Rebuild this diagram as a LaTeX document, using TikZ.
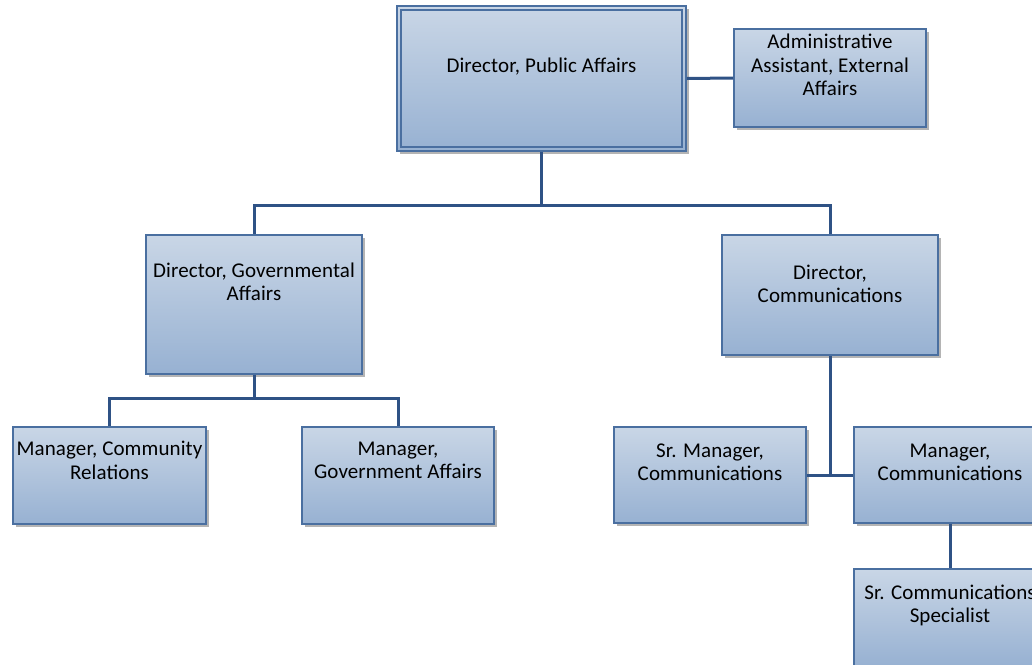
\documentclass[tikz,border=0pt]{standalone}
\usepackage{fontspec}
\setmainfont{Carlito}[LetterSpace=0.5]
\usetikzlibrary{shadows}
\definecolor{boxtop}{HTML}{C9D6E6}
\definecolor{boxbot}{HTML}{97B1D2}
\definecolor{boxline}{HTML}{4A6FA0}
\definecolor{wire}{HTML}{2F5285}
\definecolor{shade}{HTML}{B4B4B4}
\tikzset{
  orgbox/.style={rectangle, draw=boxline, line width=1.6pt, top color=boxtop, bottom color=boxbot,
    inner sep=0pt, drop shadow={shadow xshift=3pt, shadow yshift=-3pt, fill=shade, opacity=1}},
  txt/.style={align=center, font=\fontsize{21}{23.5}\selectfont, text=black, inner sep=0pt},
  wirestyle/.style={draw=wire, line width=3pt},
}
\begin{document}
\begin{tikzpicture}[x=1pt,y=-1pt]
\useasboundingbox (0,0) rectangle (1032,664);
\clip (0,0) rectangle (1032,664);
% nodes
\node[orgbox, minimum width=289pt, minimum height=145pt,
  label={[txt,yshift=11.5pt]center:{Director, Public Affairs}}] (pa) at (541.5,78.5) {};
\draw[boxline, line width=1.6pt] ([shift={(5pt,-5pt)}]pa.north west) rectangle ([shift={(-5pt,5pt)}]pa.south east);
\node[orgbox, minimum width=192pt, minimum height=98pt,
  label={[txt,yshift=13pt]center:{Administrative\\Assistant, External\\Affairs}}] (aa) at (830,78) {};
\node[orgbox, minimum width=216pt, minimum height=139pt,
  label={[txt,yshift=22.5pt]center:{Director, Governmental\\Affairs}}] (dg) at (254,304.5) {};
\node[orgbox, minimum width=216pt, minimum height=120pt,
  label={[txt,yshift=11pt]center:{Director,\\Communications}}] (dc) at (830,295) {};
\node[orgbox, minimum width=193pt, minimum height=97pt,
  label={[txt,yshift=15pt]center:{Manager, Community\\Relations}}] (mcr) at (109.5,475.5) {};
\node[orgbox, minimum width=192pt, minimum height=97pt,
  label={[txt,yshift=15pt]center:{Manager,\\Government Affairs}}] (mga) at (398,475.5) {};
\node[orgbox, minimum width=192pt, minimum height=96pt,
  label={[txt,yshift=12.5pt]center:{Sr. Manager,\\Communications}}] (smc) at (710,475) {};
\node[orgbox, minimum width=192pt, minimum height=96pt,
  label={[txt,yshift=12.5pt]center:{Manager,\\Communications}}] (mc) at (950,475) {};
\node[orgbox, minimum width=192pt, minimum height=97pt,
  label={[txt,yshift=12pt]center:{Sr. Communications\\Specialist}}] (scs) at (950,617.5) {};
% junctions
\coordinate (j1) at (pa.south |- 0,205);
\coordinate (j2) at (dg.south |- 0,398);
\coordinate (j3) at (dc.south |- smc.east);
% connectors
\draw[wirestyle] (pa.east) -- (aa.west);
\draw[wirestyle] (pa.south) -- (j1);
\draw[wirestyle] (j1) -| (dg.north);
\draw[wirestyle] (j1) -| (dc.north);
\draw[wirestyle] (dg.south) -- (j2);
\draw[wirestyle] (j2) -| (mcr.north);
\draw[wirestyle] (j2) -| (mga.north);
\draw[wirestyle] (dc.south) -- (j3);
\draw[wirestyle] (smc.east) -- (mc.west);
\draw[wirestyle] (mc.south) -- (scs.north);
\end{tikzpicture}
\end{document}
